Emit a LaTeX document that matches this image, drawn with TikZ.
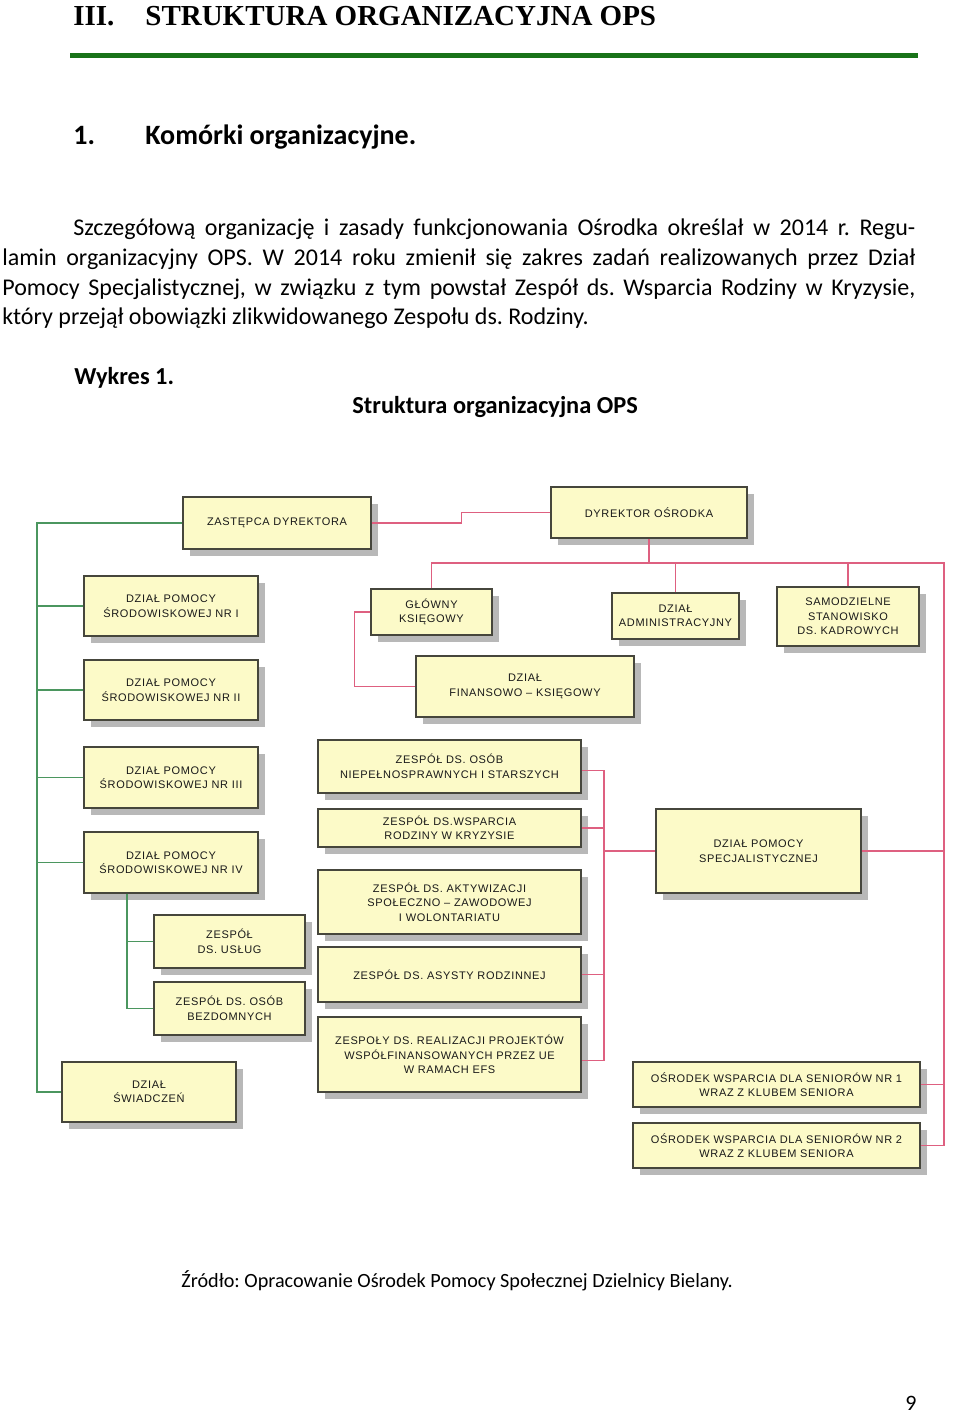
\documentclass[tikz,border=0pt]{standalone}
\usepackage{fontspec}
\setmainfont{Carlito}
\newfontfamily\titlefont{Liberation Serif}
\newfontfamily\chartfont[LetterSpace=6]{Liberation Sans}
\usetikzlibrary{shadows,calc}
\definecolor{boxfill}{RGB}{252,250,200}
\definecolor{boxline}{RGB}{70,70,60}
\definecolor{redline}{RGB}{222,96,128}
\definecolor{greenline}{RGB}{75,150,95}
\definecolor{rulegreen}{RGB}{25,115,25}
\frenchspacing
\tikzset{every picture/.style={line width=0.75pt}}
\tikzset{
  unit/.style={draw=boxline, line width=1.4pt, fill=boxfill, align=center, inner sep=2pt,
    text=black!90, font=\chartfont\fontsize{11}{14.5}\selectfont,
    drop shadow={shadow xshift=7pt, shadow yshift=-7pt, fill=black!28, opacity=1}},
  rline/.style={draw=redline, line width=1.4pt},
  gline/.style={draw=greenline, line width=1.4pt},
  txt/.style={anchor=base west, inner sep=0pt},
}

\begin{document}
\begin{tikzpicture}[x=1pt,y=1pt,yscale=-1,xscale=1]
\useasboundingbox (0,0) rectangle (960,1416);

% Text Node
\node [txt, font=\titlefont\bfseries\fontsize{29}{35}\selectfont] (secno) at (73,25) {III.};
\node [txt, font=\titlefont\bfseries\fontsize{29}{35}\selectfont] (sectitle) at (145,25) {STRUKTURA ORGANIZACYJNA OPS};
%Straight Lines
\draw [rulegreen, line width=5pt] (70,55) -- (918,55);

% Text Node
\node [txt, font=\bfseries\fontsize{28}{34}\selectfont] (subno) at (73,144) {1.};
\node [txt, font=\bfseries\fontsize{28}{34}\selectfont] (subtitle) at (145,144) {Komórki organizacyjne.};

% Text Node
\node [txt, font=\fontsize{24}{30}\selectfont] (par1) at (73,235) {\makebox[842pt][s]{Szczegółową organizację i zasady funkcjonowania Ośrodka określał w 2014 r. Regu-}};
\node [txt, font=\fontsize{24}{30}\selectfont] (par2) at (2,265) {\makebox[913pt][s]{lamin organizacyjny OPS. W 2014 roku zmienił się zakres zadań realizowanych przez Dział}};
\node [txt, font=\fontsize{24}{30}\selectfont] (par3) at (2,295) {\makebox[913pt][s]{Pomocy Specjalistycznej, w związku z tym powstał Zespół ds. Wsparcia Rodziny w Kryzysie,}};
\node [txt, font=\fontsize{24}{30}\selectfont] (par4) at (2,324) {który przejął obowiązki zlikwidowanego Zespołu ds. Rodziny.};

% Text Node
\node [txt, font=\bfseries\fontsize{24.4}{29}\selectfont] (figno) at (74,384) {Wykres 1.};
\node [txt, font=\bfseries\fontsize{24.4}{29}\selectfont] (figtitle) at (352,413) {Struktura organizacyjna OPS};

%Shape: Boxes, left column
\node [unit, minimum width=188pt, minimum height=52pt] (zast) at (277,523) {ZASTĘPCA DYREKTORA};
\node [unit, minimum width=196pt, minimum height=51pt] (dyr) at (649,512.5) {DYREKTOR OŚRODKA};
\node [unit, minimum width=174pt, minimum height=60pt] (dps1) at (171,606) {DZIAŁ POMOCY\\ŚRODOWISKOWEJ NR I};
\node [unit, minimum width=174pt, minimum height=60pt] (dps2) at (171,690) {DZIAŁ POMOCY\\ŚRODOWISKOWEJ NR II};
\node [unit, minimum width=174pt, minimum height=61pt] (dps3) at (171,777.5) {DZIAŁ POMOCY\\ŚRODOWISKOWEJ NR III};
\node [unit, minimum width=174pt, minimum height=61pt] (dps4) at (171,862.5) {DZIAŁ POMOCY\\ŚRODOWISKOWEJ NR IV};
\node [unit, minimum width=151pt, minimum height=53pt] (uslug) at (229.5,941.5) {ZESPÓŁ\\DS. USŁUG};
\node [unit, minimum width=151pt, minimum height=53pt] (bezdom) at (229.5,1008.5) {ZESPÓŁ DS. OSÓB\\BEZDOMNYCH};
\node [unit, minimum width=174pt, minimum height=60pt] (swiad) at (149,1092) {DZIAŁ\\ŚWIADCZEŃ};

%Shape: Boxes, under the director
\node [unit, minimum width=121pt, minimum height=46pt] (glowny) at (431.5,612) {GŁÓWNY\\KSIĘGOWY};
\node [unit, minimum width=127pt, minimum height=46pt] (admin) at (675.5,616) {DZIAŁ\\ADMINISTRACYJNY};
\node [unit, minimum width=142pt, minimum height=59pt] (kadr) at (848,616.5) {SAMODZIELNE\\STANOWISKO\\DS. KADROWYCH};
\node [unit, minimum width=218pt, minimum height=61pt] (finans) at (525,686.5) {DZIAŁ\\FINANSOWO – KSIĘGOWY};

%Shape: Boxes, teams
\node [unit, minimum width=263pt, minimum height=53pt] (niepeln) at (449.5,766.5) {ZESPÓŁ DS. OSÓB\\NIEPEŁNOSPRAWNYCH I STARSZYCH};
\node [unit, minimum width=263pt, minimum height=38pt] (wsparcia) at (449.5,828) {ZESPÓŁ DS.WSPARCIA\\RODZINY W KRYZYSIE};
\node [unit, minimum width=263pt, minimum height=64pt] (aktyw) at (449.5,902) {ZESPÓŁ DS. AKTYWIZACJI\\SPOŁECZNO – ZAWODOWEJ\\I WOLONTARIATU};
\node [unit, minimum width=263pt, minimum height=55pt] (asysty) at (449.5,974.5) {ZESPÓŁ DS. ASYSTY RODZINNEJ};
\node [unit, minimum width=263pt, minimum height=75pt] (efs) at (449.5,1054.5) {ZESPOŁY DS. REALIZACJI PROJEKTÓW\\WSPÓŁFINANSOWANYCH PRZEZ UE\\W RAMACH EFS};
\node [unit, minimum width=205pt, minimum height=84pt] (specj) at (758.5,851) {DZIAŁ POMOCY\\SPECJALISTYCZNEJ};
\node [unit, minimum width=287pt, minimum height=45pt] (senior1) at (776.5,1084.5) {OŚRODEK WSPARCIA DLA SENIORÓW NR 1\\WRAZ Z KLUBEM SENIORA};
\node [unit, minimum width=287pt, minimum height=45pt] (senior2) at (776.5,1145.5) {OŚRODEK WSPARCIA DLA SENIORÓW NR 2\\WRAZ Z KLUBEM SENIORA};

% Connector points
\coordinate (gtrunk) at (37,523);
\coordinate (gsub) at (127,893);
\coordinate (rbus) at (649,563);
\coordinate (rright) at (944,563);
\coordinate (rbrk) at (604,851);

%Straight Lines, green
\draw [gline] (zast.west) -- (gtrunk) |- (swiad.west);
\foreach \n in {dps1,dps2,dps3,dps4}
  \draw [gline] (\n.west) -- (\n.west -| gtrunk);
\draw [gline] (dps4.south -| gsub) |- (bezdom.west);
\draw [gline] (uslug.west) -- (uslug.west -| gsub);

%Straight Lines, red
\draw [rline] (zast.east) -- ++(90,0) |- (dyr.west);
\draw [rline] (dyr.south) -- (rbus);
\draw [rline] (glowny.north) |- (rbus) -- (rright) |- (senior2.east);
\draw [rline] (admin.north) -- (admin.north |- rbus);
\draw [rline] (kadr.north) -- (kadr.north |- rbus);
\draw [rline] (glowny.west) -- ++(-16,0) |- (finans.west);
\draw [rline] ($(niepeln.east)+(0,4)$) -| (rbrk) |- ($(efs.east)+(0,6)$);
\draw [rline] (wsparcia.east) -- (wsparcia.east -| rbrk);
\draw [rline] ($(aktyw.east)+(0,-17)$) -- ($(aktyw.east)+(0,-17)$ -| rbrk);
\draw [rline] (asysty.east) -- (asysty.east -| rbrk);
\draw [rline] (rbrk) -- (specj.west);
\draw [rline] (specj.east) -- (specj.east -| rright);
\draw [rline] (senior1.east) -- (senior1.east -| rright);

% Text Node
\node [txt, font=\fontsize{20.2}{24}\selectfont] (source) at (181,1287) {Źródło: Opracowanie Ośrodek Pomocy Społecznej Dzielnicy Bielany.};
\node [txt, font=\fontsize{22}{26}\selectfont] (pageno) at (905,1410) {9};

\end{tikzpicture}
\end{document}
